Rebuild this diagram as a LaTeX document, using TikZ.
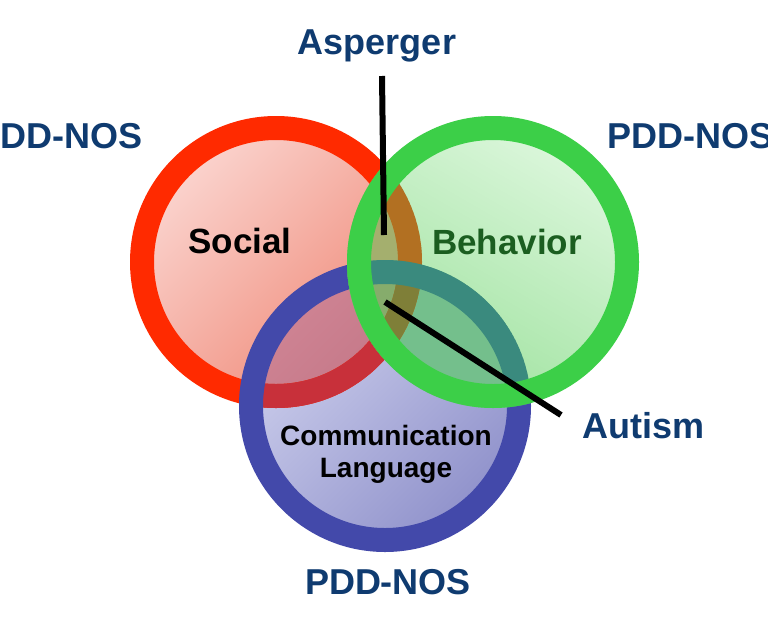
\documentclass[tikz,border=0pt]{standalone}
\usepackage{fontspec}
\setmainfont{Liberation Sans}
\definecolor{redL}{HTML}{FBD6D1}
\definecolor{redD}{HTML}{EF8775}
\definecolor{bluL}{HTML}{D0D2EE}
\definecolor{bluD}{HTML}{8E90CA}
\definecolor{rbL}{HTML}{CF8494}
\definecolor{rbD}{HTML}{B46676}
\definecolor{redR}{HTML}{FF2A00}
\definecolor{redRB}{HTML}{C8303A}
\definecolor{bluR}{HTML}{4349AA}
\definecolor{grnL}{HTML}{DDF7DD}
\definecolor{grnD}{HTML}{9EE29E}
\definecolor{gbCol}{HTML}{74BF8C}
\definecolor{oliveCol}{HTML}{A4AF6E}
\definecolor{tripleCol}{HTML}{86AC6C}
\definecolor{brownCol}{HTML}{B27022}
\definecolor{brownDark}{HTML}{7F7F38}
\definecolor{tealCol}{HTML}{3A8A7E}
\definecolor{grnR}{HTML}{3CCF48}
\definecolor{navy}{HTML}{0F3B70}
\definecolor{bgreen}{HTML}{1B5E20}
\tikzset{
  lbl/.style={font=\fontsize{36}{40}\selectfont\bfseries, text=navy, inner sep=0pt},
  circlbl/.style={font=\fontsize{35}{40}\selectfont\bfseries, inner sep=0pt},
  smalllbl/.style={font=\fontsize{28}{32}\selectfont\bfseries, inner sep=0pt, text=black},
  ring/.style={line width=24pt},
  pointer/.style={line width=6pt, draw=black}
}
\begin{document}
\begin{tikzpicture}[x=1pt,y=-1pt]
\useasboundingbox (0,0) rectangle (768,635);
\fill[white] (0,0) rectangle (768,635);
\coordinate (cS) at (276,262);
\coordinate (cB) at (493,262);
\coordinate (cC) at (385,406);
% red fill
\shade[top color=redL, bottom color=redD, shading angle=45] (cS) circle (140);
% blue fill
\shade[top color=bluL, bottom color=bluD, shading angle=45] (cC) circle (140);
% red-blue overlap
\begin{scope}
  \clip (cS) circle (146);
  \shade[top color=rbL, bottom color=rbD, shading angle=45] (cC) circle (140);
\end{scope}
% red ring
\draw[ring, redR] (cS) circle (134);
\begin{scope}
  \clip (cC) circle (146);
  \draw[ring, redRB] (cS) circle (134);
\end{scope}
% blue ring
\draw[ring, bluR] (cC) circle (134);
% green fill
\shade[top color=grnL, bottom color=grnD, shading angle=-30] (cB) circle (140);
\begin{scope}
  \clip (cB) circle (146);
  \begin{scope}
    \clip (cC) circle (146);
    \fill[gbCol] (cC) circle (146);
  \end{scope}
  \begin{scope}
    \clip (cS) circle (146);
    \fill[oliveCol] (cS) circle (146);
    \begin{scope}
      \clip (cC) circle (146);
      \fill[tripleCol] (cC) circle (146);
    \end{scope}
  \end{scope}
  \draw[ring, brownCol] (cS) circle (134);
  \begin{scope}
    \clip (cC) circle (146);
    \draw[ring, brownDark] (cS) circle (134);
  \end{scope}
  \draw[ring, tealCol] (cC) circle (134);
\end{scope}
% green ring
\draw[ring, grnR] (cB) circle (134);

% labels
\node[lbl, anchor=base] (asp) at (377,54) {Asperger};
\node[lbl, anchor=base east] (pddL) at (143,148) {PDD-NOS};
\node[lbl, anchor=base west] (pddR) at (607,148) {PDD-NOS};
\node[lbl, anchor=base] (pddB) at (388,594) {PDD-NOS};
\node[lbl, anchor=base west] (aut) at (582,438) {Autism};
\node[circlbl, anchor=base, text=black] (soc) at (240,253) {Social};
\node[circlbl, anchor=base, text=bgreen] (beh) at (507,254) {Behavior};
\node[smalllbl, anchor=base] (comm) at (386,445) {Communication};
\node[smalllbl, anchor=base] (lang) at (386,477) {Language};

% pointers
\coordinate (aspA) at (382,76);
\coordinate (aspB) at (384,235);
\coordinate (autA) at (385,302);
\coordinate (autB) at (561,415);
\draw[pointer] (aspA) -- (aspB);
\draw[pointer] (autA) -- (autB);
\end{tikzpicture}
\end{document}
